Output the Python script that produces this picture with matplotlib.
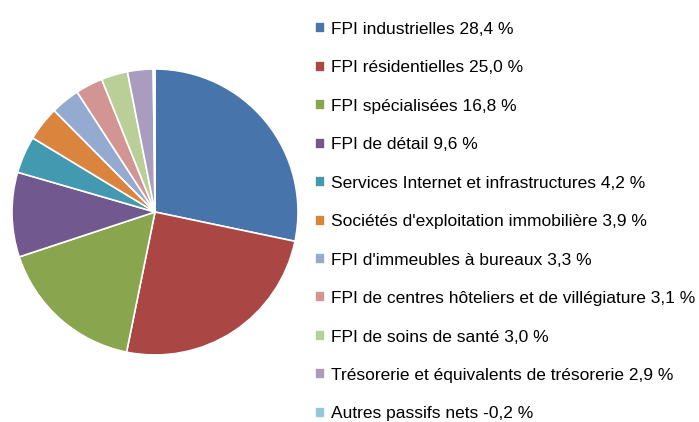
import matplotlib.pyplot as plt

plt.rcParams["font.family"] = ["Liberation Sans", "DejaVu Sans"]

categories = [
    "FPI industrielles",
    "FPI résidentielles",
    "FPI spécialisées",
    "FPI de détail",
    "Services Internet et infrastructures",
    "Sociétés d'exploitation immobilière",
    "FPI d'immeubles à bureaux",
    "FPI de centres hôteliers et de villégiature",
    "FPI de soins de santé",
    "Trésorerie et équivalents de trésorerie",
    "Autres passifs nets",
]
values = [28.4, 25.0, 16.8, 9.6, 4.2, 3.9, 3.3, 3.1, 3.0, 2.9, -0.2]
colors = ["#4674AB", "#AA4744", "#89A54E", "#71598F", "#4399AF",
          "#DB843D", "#94AAD0", "#D29594", "#BACE97", "#A99CBE", "#93C6D6"]

labels = [f"{c} {v:.1f} %".replace(".", ",") for c, v in zip(categories, values)]

fig = plt.figure(figsize=(6.99, 4.22), dpi=100)
W, H = 699, 422
cx, cy, r = 155, 212, 143
ax = fig.add_axes([(cx - r) / W, (H - cy - r) / H, 2 * r / W, 2 * r / H])

wedges, _ = ax.pie([abs(v) for v in values], colors=colors, startangle=90,
                   counterclock=False,
                   wedgeprops=dict(edgecolor="white", linewidth=1.2))
ax.set_xlim(-1, 1)
ax.set_ylim(-1, 1)
ax.set_aspect("equal")

fig.legend(wedges, labels, loc="upper left", bbox_to_anchor=(315 / W, 1 - 22 / H),
           frameon=False, fontsize=12.5, handlelength=0.6, handleheight=0.6,
           handletextpad=0.35, labelspacing=1.35, borderpad=0, borderaxespad=0)

fig.savefig("out.png", dpi=100)
